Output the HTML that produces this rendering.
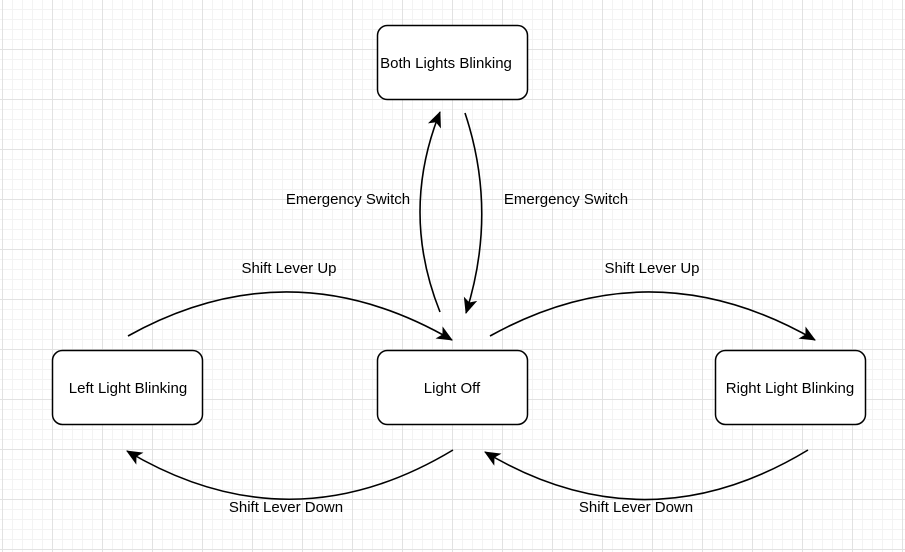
<!DOCTYPE html>
<html><head><meta charset="utf-8"><style>
html,body{margin:0;padding:0;background:#fff;}
svg{display:block;}
text{font-family:"Liberation Sans",Arial,sans-serif;font-size:15px;fill:#000;}
</style></head><body>
<svg width="905" height="552" viewBox="0 0 905 552" xmlns="http://www.w3.org/2000/svg">
<defs>
<pattern id="minor" x="2" y="-1" width="10" height="10" patternUnits="userSpaceOnUse">
<path d="M0.5 0V10M0 0.5H10" stroke="#f3f3f3" stroke-width="1" fill="none"/>
</pattern>
<pattern id="major" x="2" y="-1" width="50" height="50" patternUnits="userSpaceOnUse">
<path d="M0.5 0V50M0 0.5H50" stroke="#e2e2e2" stroke-width="1" fill="none"/>
</pattern>
<marker id="ar" viewBox="0 0 16 16" refX="15" refY="8" markerWidth="16" markerHeight="16" markerUnits="userSpaceOnUse" orient="auto">
<path d="M0 1L16 8L0 15L4 8Z" fill="#000"/>
</marker>
</defs>
<rect width="905" height="552" fill="url(#minor)"/>
<rect width="905" height="552" fill="url(#major)"/>
<g fill="#fff" stroke="#000" stroke-width="1.5">
<rect x="377.5" y="25.5" width="150" height="74" rx="10"/>
<rect x="52.5" y="350.5" width="150" height="74" rx="10"/>
<rect x="377.5" y="350.5" width="150" height="74" rx="10"/>
<rect x="715.5" y="350.5" width="150" height="74" rx="10"/>
</g>
<g fill="none" stroke="#000" stroke-width="1.6" marker-end="url(#ar)">
<path d="M128 336 Q290 246 452 340"/>
<path d="M490 336 Q652 246 815 340"/>
<path d="M453 450 Q290 548 127 451"/>
<path d="M808 450 Q646 548 485 452"/>
<path d="M440 312 Q400 212 440 112"/>
<path d="M465 113 Q498 212 466 313"/>
</g>
<g text-anchor="middle">
<text x="446" y="68">Both Lights Blinking</text>
<text x="128" y="393">Left Light Blinking</text>
<text x="452" y="393">Light Off</text>
<text x="790" y="393">Right Light Blinking</text>
<text x="348" y="204">Emergency Switch</text>
<text x="566" y="204">Emergency Switch</text>
<text x="289" y="273">Shift Lever Up</text>
<text x="652" y="273">Shift Lever Up</text>
<text x="286" y="512">Shift Lever Down</text>
<text x="636" y="512">Shift Lever Down</text>
</g>
</svg>
</body></html>
